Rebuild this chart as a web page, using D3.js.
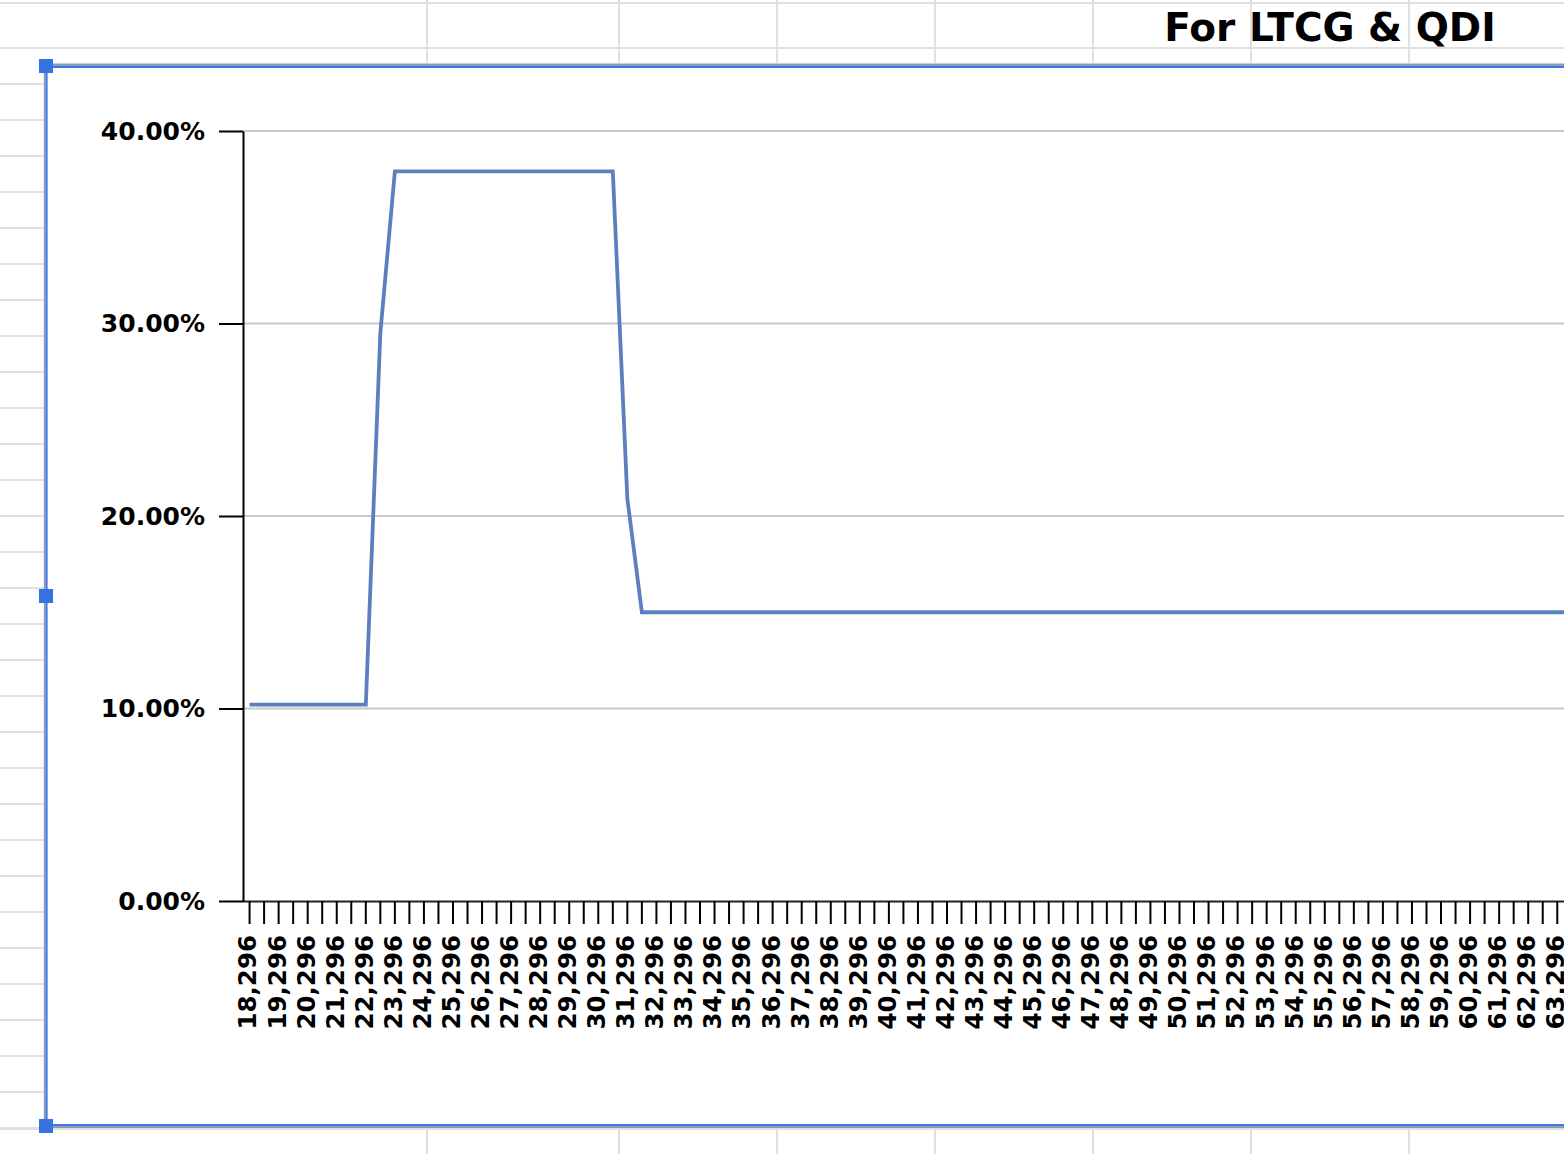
<!DOCTYPE html>
<html>
<head>
<meta charset="utf-8">
<script src="https://cdn.jsdelivr.net/npm/d3@7"></script>
<style>
  html, body { margin: 0; padding: 0; background: #fff; }
  svg { display: block; }
  text { font-family: "DejaVu Sans", Verdana, sans-serif; font-weight: bold; fill: #000; }
</style>
</head>
<body>
<svg id="chart" width="1564" height="1154"></svg>
<script>
// ---- data ----
const title = "For LTCG & QDI";

const incomes = [
  18296,18796,19296,19796,20296,20796,21296,21796,22296,22796,
  23296,23796,24296,24796,25296,25796,26296,26796,27296,27796,
  28296,28796,29296,29796,30296,30796,31296,31796,32296,32796,
  33296,33796,34296,34796,35296,35796,36296,36796,37296,37796,
  38296,38796,39296,39796,40296,40796,41296,41796,42296,42796,
  43296,43796,44296,44796,45296,45796,46296,46796,47296,47796,
  48296,48796,49296,49796,50296,50796,51296,51796,52296,52796,
  53296,53796,54296,54796,55296,55796,56296,56796,57296,57796,
  58296,58796,59296,59796,60296,60796,61296,61796,62296,62796,
  63296,63796
];

const rates = [
  10.2,10.2,10.2,10.2,10.2,10.2,10.2,10.2,10.2,29.5,
  37.9,37.9,37.9,37.9,37.9,37.9,37.9,37.9,37.9,37.9,
  37.9,37.9,37.9,37.9,37.9,37.9,20.9,15,15,15,
  15,15,15,15,15,15,15,15,15,15,
  15,15,15,15,15,15,15,15,15,15,
  15,15,15,15,15,15,15,15,15,15,
  15,15,15,15,15,15,15,15,15,15,
  15,15,15,15,15,15,15,15,15,15,
  15,15,15,15,15,15,15,15,15,15,
  15,15
];

const tickLabels = [
  "18,296","19,296","20,296","21,296","22,296","23,296","24,296","25,296","26,296","27,296",
  "28,296","29,296","30,296","31,296","32,296","33,296","34,296","35,296","36,296","37,296",
  "38,296","39,296","40,296","41,296","42,296","43,296","44,296","45,296","46,296","47,296",
  "48,296","49,296","50,296","51,296","52,296","53,296","54,296","55,296","56,296","57,296",
  "58,296","59,296","60,296","61,296","62,296","63,296"
];

const yTicks = [0, 10, 20, 30, 40];

// ---- layout ----
const W = 1564, H = 1154;
const svg = d3.select("#chart");

// spreadsheet background grid
const sheet = svg.append("g").attr("stroke", "#e0e0e0").attr("stroke-width", 2);
const colLines = [427, 619, 777, 935, 1093, 1251, 1409];
[3, 48].forEach(y => sheet.append("line").attr("x1", 0).attr("x2", W).attr("y1", y).attr("y2", y));
colLines.forEach(x => {
  sheet.append("line").attr("x1", x).attr("x2", x).attr("y1", 0).attr("y2", 63);
  sheet.append("line").attr("x1", x).attr("x2", x).attr("y1", 1129).attr("y2", H);
});
for (let y = 84; y <= 1129; y += 36) {
  sheet.append("line").attr("x1", 0).attr("x2", 44).attr("y1", y).attr("y2", y);
}
sheet.append("line").attr("x1", 0).attr("x2", W).attr("y1", 1129).attr("y2", 1129);

// chart area
svg.append("rect").attr("x", 46).attr("y", 66).attr("width", W - 46).attr("height", 1126 - 66).attr("fill", "#fff");

// title
svg.append("text").attr("x", 1330).attr("y", 41).attr("text-anchor", "middle")
  .style("font-size", "39px").text(title);

// scales
const step = 14.53;
const x0 = 242.3;
const x = d3.scaleBand().domain(incomes).range([x0, x0 + step * incomes.length]).paddingInner(0).paddingOuter(0);
const cx = d => x(d) + x.bandwidth() / 2;
const y = d3.scaleLinear().domain([0, 40]).range([901, 131]);

// gridlines
svg.append("g").selectAll("line").data(yTicks.filter(d => d > 0)).join("line")
  .attr("x1", 243).attr("x2", W).attr("y1", d => y(d)).attr("y2", d => y(d))
  .attr("stroke", "#c8c8c8").attr("stroke-width", 2);

// x axis
const fmt = d3.format(",");
const xAxis = d3.axisBottom(x).tickSize(23).tickSizeOuter(0)
  .tickFormat(d => tickLabels.includes(fmt(d)) ? fmt(d) : "");
const gx = svg.append("g").attr("transform", "translate(0,901)").call(xAxis);
gx.select(".domain").attr("stroke", "#222").attr("stroke-width", 2);
gx.selectAll(".tick line").attr("stroke", "#000").attr("stroke-width", 2);
gx.selectAll(".tick text")
  .attr("transform", "rotate(-90)")
  .attr("x", -34).attr("y", 0).attr("dy", "0.28em")
  .style("text-anchor", "end")
  .style("font-size", "24.5px")
  .style("font-family", "'DejaVu Sans', Verdana, sans-serif")
  .style("font-weight", "bold");

// y axis
const yAxis = d3.axisLeft(y).tickValues(yTicks).tickSize(24).tickSizeOuter(0).tickPadding(14)
  .tickFormat(d => d.toFixed(2) + "%");
const gy = svg.append("g").attr("transform", "translate(243,0)").call(yAxis);
gy.select(".domain").attr("stroke", "#000").attr("stroke-width", 2);
gy.selectAll(".tick line").attr("stroke", "#000").attr("stroke-width", 2);
gy.selectAll(".tick text")
  .style("font-size", "25px")
  .style("font-family", "'DejaVu Sans', Verdana, sans-serif")
  .style("font-weight", "bold");

// data line
const data = incomes.map((d, i) => ({ inc: d, rate: rates[i] }));
svg.append("path").datum(data)
  .attr("fill", "none").attr("stroke", "#5b80bd").attr("stroke-width", 3.8)
  .attr("stroke-linejoin", "miter")
  .attr("d", d3.line().x(d => cx(d.inc)).y(d => y(d.rate)));

// selection frame
const frame = svg.append("g");
frame.append("line").attr("x1", 46).attr("x2", W).attr("y1", 64.5).attr("y2", 64.5).attr("stroke", "#999").attr("stroke-width", 2);
frame.append("line").attr("x1", 46).attr("x2", W).attr("y1", 66.8).attr("y2", 66.8).attr("stroke", "#3b78e7").attr("stroke-width", 2.5);
frame.append("line").attr("x1", 44.6).attr("x2", 44.6).attr("y1", 66).attr("y2", 1126).attr("stroke", "#999").attr("stroke-width", 1.5);
frame.append("line").attr("x1", 46.5).attr("x2", 46.5).attr("y1", 66).attr("y2", 1126).attr("stroke", "#3b78e7").attr("stroke-width", 2.2);
frame.append("line").attr("x1", 46).attr("x2", W).attr("y1", 1127.2).attr("y2", 1127.2).attr("stroke", "#999").attr("stroke-width", 1.8);
frame.append("line").attr("x1", 46).attr("x2", W).attr("y1", 1125.2).attr("y2", 1125.2).attr("stroke", "#3b78e7").attr("stroke-width", 2.2);
[66, 596, 1126].forEach(cy => {
  frame.append("rect").attr("x", 39).attr("y", cy - 7).attr("width", 14).attr("height", 14).attr("fill", "#3574e0");
});
</script>
</body>
</html>
